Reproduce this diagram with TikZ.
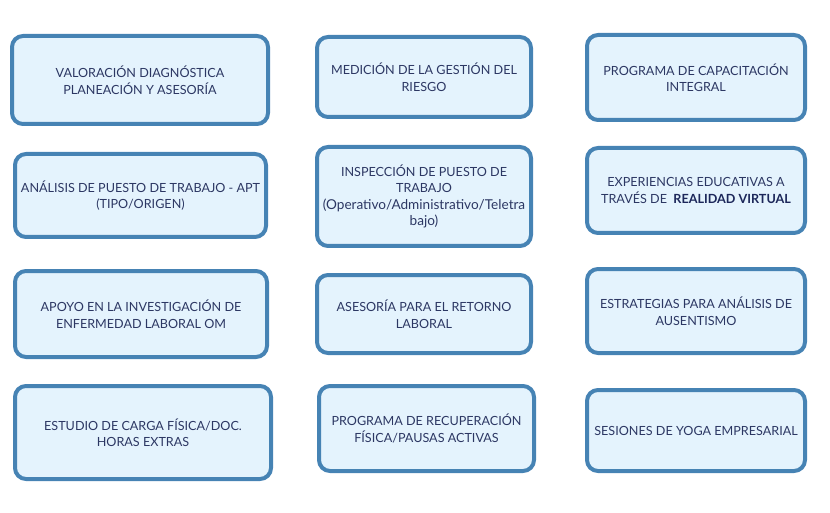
\documentclass[tikz,border=0pt]{standalone}
\usepackage{fontspec}
\setmainfont{Lato}
\definecolor{boxline}{HTML}{4683B4}
\definecolor{boxfill}{HTML}{E4F3FD}
\definecolor{boxtext}{HTML}{2C3763}
\definecolor{boxbold}{HTML}{1C275A}

\begin{document}
\begin{tikzpicture}[x=1pt,y=-1pt,
    tarea/.style={draw=boxline, fill=boxfill, line width=4pt, rounded corners=11pt,
      text=boxtext, align=center, inner sep=2pt,
      font=\fontsize{12.6}{16.5}\selectfont}]
      \useasboundingbox (0,0) rectangle (830,513);
      % fila 1
      \node[tarea, minimum width=256pt, minimum height=88pt] (valoracion) at (140,80) {VALORACIÓN DIAGNÓSTICA\\PLANEACIÓN Y ASESORÍA};
      \node[tarea, minimum width=214pt, minimum height=80pt] (medicion) at (424,77) {MEDICIÓN DE LA GESTIÓN DEL\\RIESGO};
      \node[tarea, minimum width=218pt, minimum height=85pt] (capacitacion) at (696,77.5) {PROGRAMA DE CAPACITACIÓN\\INTEGRAL};
      % fila 2
      \node[tarea, minimum width=251pt, minimum height=83pt] (analisis) at (140.5,195.5) {ANÁLISIS DE PUESTO DE TRABAJO - APT\\(TIPO/ORIGEN)};
      \node[tarea, minimum width=214pt, minimum height=99pt] (inspeccion) at (424,196.5) {INSPECCIÓN DE PUESTO DE\\TRABAJO\\{\fontsize{13.6}{16.5}\selectfont(Operativo/Administrativo/Teletra}\\{\fontsize{13.6}{16.5}\selectfont bajo)}};
      \node[tarea, minimum width=218pt, minimum height=85pt] (experiencias) at (696,190.5) {EXPERIENCIAS EDUCATIVAS A\\TRAVÉS DE \ {\bfseries\color{boxbold}REALIDAD VIRTUAL}};
      % fila 3
      \node[tarea, minimum width=252pt, minimum height=86pt] (apoyo) at (141,314) {APOYO EN LA INVESTIGACIÓN DE\\ENFERMEDAD LABORAL OM};
      \node[tarea, minimum width=214pt, minimum height=78pt] (retorno) at (424,314) {ASESORÍA PARA EL RETORNO\\LABORAL};
      \node[tarea, minimum width=218pt, minimum height=84pt] (ausentismo) at (696,311) {ESTRATEGIAS PARA ANÁLISIS DE\\AUSENTISMO};
      % fila 4
      \node[tarea, minimum width=256pt, minimum height=93pt] (carga) at (143,432.5) {ESTUDIO DE CARGA FÍSICA/DOC.\\HORAS EXTRAS};
      \node[tarea, minimum width=215pt, minimum height=85pt] (recuperacion) at (426.5,428.5) {PROGRAMA DE RECUPERACIÓN\\FÍSICA/PAUSAS ACTIVAS};
      \node[tarea, minimum width=218pt, minimum height=81pt] (yoga) at (696,430.5) {SESIONES DE YOGA EMPRESARIAL};
    \end{tikzpicture}
\end{document}
